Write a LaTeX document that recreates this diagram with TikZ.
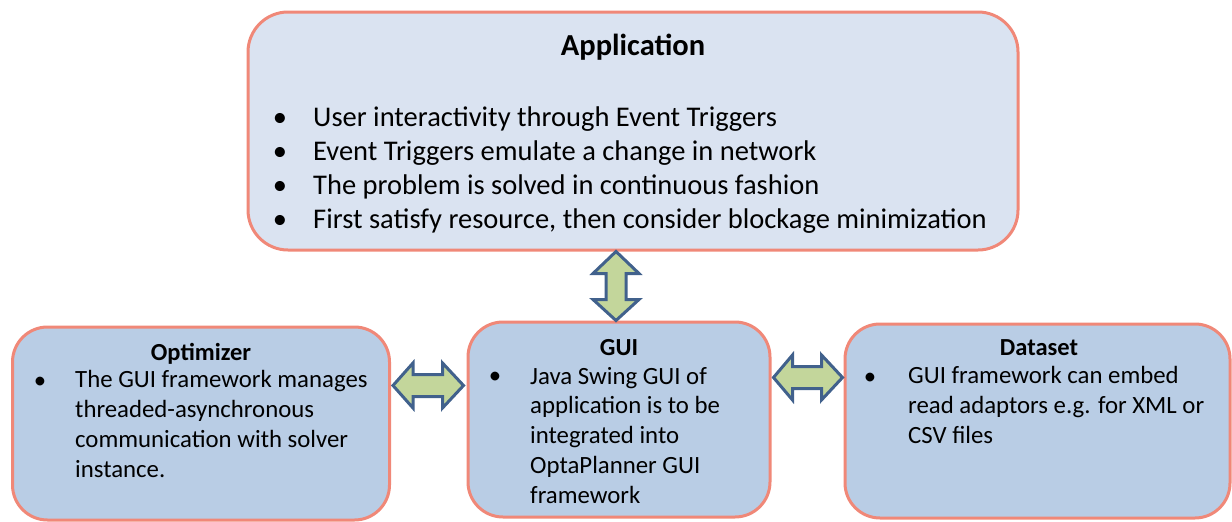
\documentclass[tikz,border=0pt]{standalone}
\usepackage{fontspec}
\setmainfont{Carlito}
\usetikzlibrary{calc}
\definecolor{apfill}{HTML}{DAE3F1}
\definecolor{bxfill}{HTML}{B9CDE5}
\definecolor{bxline}{HTML}{F08878}
\definecolor{arfill}{HTML}{C3D69B}
\definecolor{arline}{HTML}{41618C}
\tikzset{
  panel/.style={draw=bxline, line width=3pt, fill=bxfill, rounded corners=35pt, inner sep=0pt},
  toppanel/.style={panel, fill=apfill, rounded corners=40pt},
  heading/.style={anchor=base, inner sep=0pt, font=\fontsize{24.5}{29.7}\selectfont\bfseries},
  bigheading/.style={heading, font=\fontsize{30.5}{34}\selectfont\bfseries},
  dot/.style={anchor=base, inner sep=0pt, align=center, font=\fontsize{24.8}{29.7}\selectfont},
  bigdot/.style={dot, font=\fontsize{28.5}{34}\selectfont},
  % multi-line texts are placed by the baseline of their last line
  body/.style={anchor=base west, inner sep=0pt, align=left, font=\fontsize{24.8}{29.7}\selectfont},
  bigbody/.style={body, font=\fontsize{28.5}{34}\selectfont},
  blockarrow/.style={draw=arline, fill=arfill, line width=3pt, line join=miter},
}
\begin{document}
\begin{tikzpicture}[x=1pt, y=-1pt]
\useasboundingbox (0,0) rectangle (1232,522);

% panels
\node[toppanel, minimum width=770pt, minimum height=238pt] (app) at (633,131) {};
\node[panel, minimum width=377pt, minimum height=193pt] (opt) at (201,423.5) {};
\node[panel, minimum width=302pt, minimum height=195pt] (gui) at (619,419.5) {};
\node[panel, minimum width=385pt, minimum height=194pt] (data) at (1037.5,421) {};

% Application text
\node[bigheading] (apptitle) at (633,55) {Application};
\node[bigdot] (appdots) at (280,228) {\textbullet\\\textbullet\\\textbullet\\\textbullet};
\node[bigbody] (apptext) at (313,228) {User interactivity through Event Triggers\\
  Event Triggers emulate a change in network\\
  The problem is solved in continuous fashion\\
  First satisfy resource, then consider blockage minimization};

% Optimizer text
\node[heading] (opttitle) at (201,360) {Optimizer};
\node[dot] (optdot) at (40,388) {\textbullet};
\node[body] (opttext) at (75,477) {The GUI framework manages\\
  threaded-asynchronous\\
  communication with solver\\
  instance.};

% GUI text
\node[heading] (guititle) at (619,355) {GUI};
\node[dot] (guidot) at (495,383) {\textbullet};
\node[body] (guitext) at (530,503) {Java Swing GUI of\\
  application is to be\\
  integrated into\\
  OptaPlanner GUI\\
  framework};

% Dataset text
\node[heading] (datatitle) at (1039,355) {Dataset};
\node[dot] (datadot) at (870,384) {\textbullet};
\node[body] (datatext) at (908,443) {GUI framework can embed\\
  read adaptors e.g. for XML or\\
  CSV files};

% arrow end points on the panel borders
\path (app.south) ++(-17,0) coordinate (va);
\coordinate (vb) at (va |- gui.north);
\coordinate (la) at ([xshift=2pt]opt.east |- 0,385.5);
\coordinate (lb) at ([xshift=-3pt]gui.west |- 0,385.5);
\coordinate (ra) at ([xshift=2pt]gui.east |- 0,377.5);
\coordinate (rb) at ([xshift=-1pt]data.west |- 0,377.5);

% vertical double arrow: Application <-> GUI
\draw[blockarrow] (va) -- ++(23,22) -- ++(-13,0) -- ($(vb)+(10,-21)$) -- ++(13,0)
  -- (vb) -- ++(-23,-21) -- ++(13,0) -- ($(va)+(-10,22)$) -- ++(-13,0) -- cycle;

% horizontal double arrow: Optimizer <-> GUI
\draw[blockarrow] (la) -- ++(20,-22.5) -- ++(0,11.5) -- ($(lb)+(-21,-11)$) -- ++(0,-11.5)
  -- (lb) -- ++(-21,22.5) -- ++(0,-11.5) -- ($(la)+(20,11)$) -- ++(0,11.5) -- cycle;

% horizontal double arrow: GUI <-> Dataset
\draw[blockarrow] (ra) -- ++(19,-22.5) -- ++(0,11.5) -- ($(rb)+(-21,-11)$) -- ++(0,-11.5)
  -- (rb) -- ++(-21,22.5) -- ++(0,-11.5) -- ($(ra)+(19,11)$) -- ++(0,11.5) -- cycle;
\end{tikzpicture}
\end{document}
